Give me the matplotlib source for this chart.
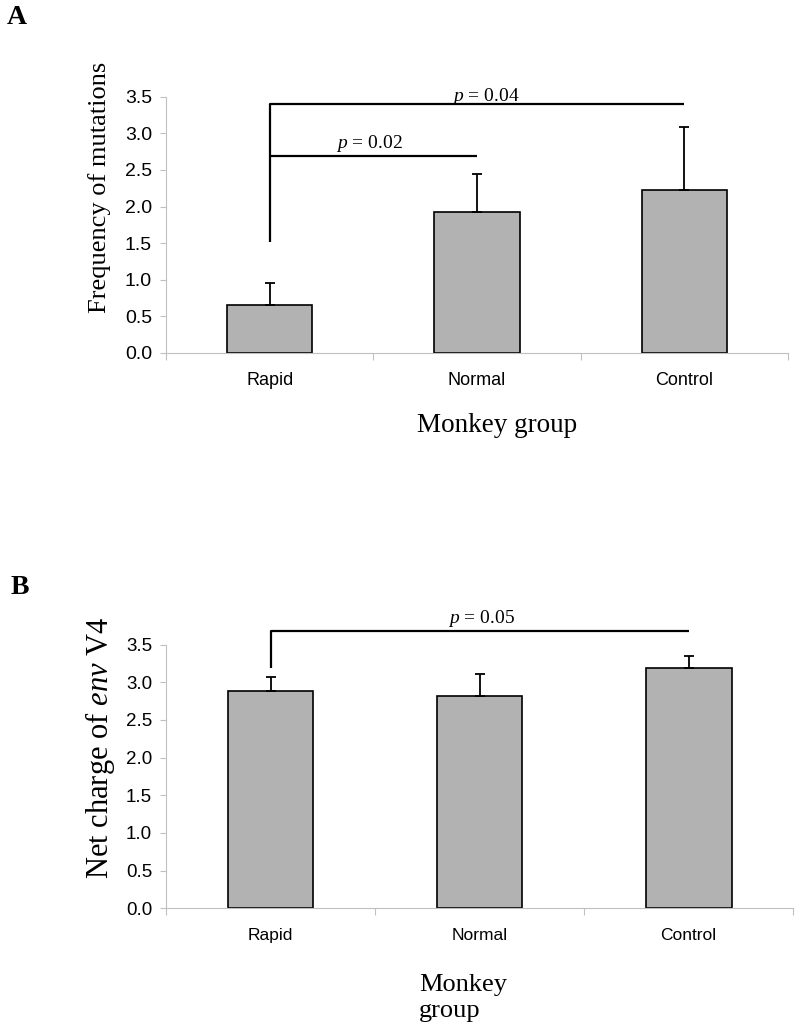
import numpy as np
import matplotlib
matplotlib.use('Agg')
import matplotlib.pyplot as plt
from matplotlib.ticker import FormatStrFormatter

plt.rcParams['mathtext.fontset'] = 'custom'
plt.rcParams['mathtext.rm'] = 'Liberation Serif'
plt.rcParams['mathtext.it'] = 'Liberation Serif:italic'

# data
groups = ['Rapid', 'Normal', 'Control']
freq_mean = [0.65, 1.92, 2.23]
freq_err = [0.31, 0.52, 0.85]
charge_mean = [2.89, 2.82, 3.19]
charge_err = [0.18, 0.29, 0.16]
yticks = [0.0, 0.5, 1.0, 1.5, 2.0, 2.5, 3.0, 3.5]

SANS = 'Liberation Sans'
SERIF = 'Liberation Serif'
GREY = '#b2b2b2'
AXC = '#c0c0c0'


def bar_panel(ax, means, errs, tick_size, label_size):
    x = np.arange(len(groups))
    ax.bar(x, means, width=0.41, color=GREY, edgecolor='black', linewidth=1.2, zorder=2)
    ax.errorbar(x, means, yerr=[np.zeros(len(errs)), errs], fmt='none',
                ecolor='black', elinewidth=1.3, capsize=3.3, capthick=1.3, zorder=3)
    ax.set_xlim(-0.5, len(groups) - 0.5)
    ax.set_ylim(0, 3.5)
    ax.set_yticks(yticks)
    ax.yaxis.set_major_formatter(FormatStrFormatter('%.1f'))
    ax.set_xticks(x)
    ax.set_xticklabels(groups, fontfamily=SANS, fontsize=label_size)
    ax.set_xticks(np.arange(len(groups) + 1) - 0.5, minor=True)
    ax.tick_params(axis='x', which='major', length=0, pad=14)
    ax.tick_params(axis='x', which='minor', length=5, color=AXC, width=0.8)
    ax.tick_params(axis='y', length=4, color=AXC, width=0.8, pad=6, labelsize=tick_size)
    for lab in ax.get_yticklabels():
        lab.set_fontfamily(SANS)
    for s in ['top', 'right']:
        ax.spines[s].set_visible(False)
    for s in ['left', 'bottom']:
        ax.spines[s].set_color(AXC)
        ax.spines[s].set_linewidth(0.8)


fig = plt.figure(figsize=(8, 10.36), dpi=100)

# ---- panel A
axA = fig.add_axes([0.2075, 0.6593, 0.7775, 0.2474])
bar_panel(axA, freq_mean, freq_err, 14, 13)
kw = dict(color='black', lw=1.6, clip_on=False, solid_capstyle='butt', zorder=4)
axA.plot([0, 0, 2], [1.52, 3.40, 3.40], **kw)
axA.plot([0, 1], [2.69, 2.69], **kw)
axA.text(1.04, 3.44, r'$p$ = 0.04', ha='center', va='baseline', fontfamily=SERIF, fontsize=14)
axA.text(0.48, 2.80, r'$p$ = 0.02', ha='center', va='baseline', fontfamily=SERIF, fontsize=14)

fig.text(17 / 800, 1 - 17 / 1036, 'A', fontfamily=SERIF, fontweight='bold', fontsize=20,
         ha='center', va='center')
fig.text(100 / 800, 1 - 187 / 1036, 'Frequency of mutations', rotation=90,
         fontfamily=SERIF, fontsize=19, ha='center', va='center')
fig.text(497 / 800, 1 - 425 / 1036, 'Monkey group', fontfamily=SERIF, fontsize=19.5,
         ha='center', va='center')

# ---- panel B
axB = fig.add_axes([0.2075, 0.1233, 0.784, 0.2545])
bar_panel(axB, charge_mean, charge_err, 13.5, 12.5)
axB.plot([0, 0, 2], [3.19, 3.68, 3.68], **kw)
axB.text(1.01, 3.79, r'$p$ = 0.05', ha='center', va='baseline', fontfamily=SERIF, fontsize=14)

fig.text(20 / 800, 1 - 587 / 1036, 'B', fontfamily=SERIF, fontweight='bold', fontsize=20,
         ha='center', va='center')
fig.text(100 / 800, 1 - 748 / 1036, r'Net charge of $env$ V4', rotation=90,
         fontfamily=SERIF, fontsize=22, ha='center', va='center')
fig.text(419 / 800, 1 - 998 / 1036, 'Monkey\ngroup', fontfamily=SERIF, fontsize=19,
         ha='left', va='center', linespacing=1.25)

fig.savefig('out.png', dpi=100)
